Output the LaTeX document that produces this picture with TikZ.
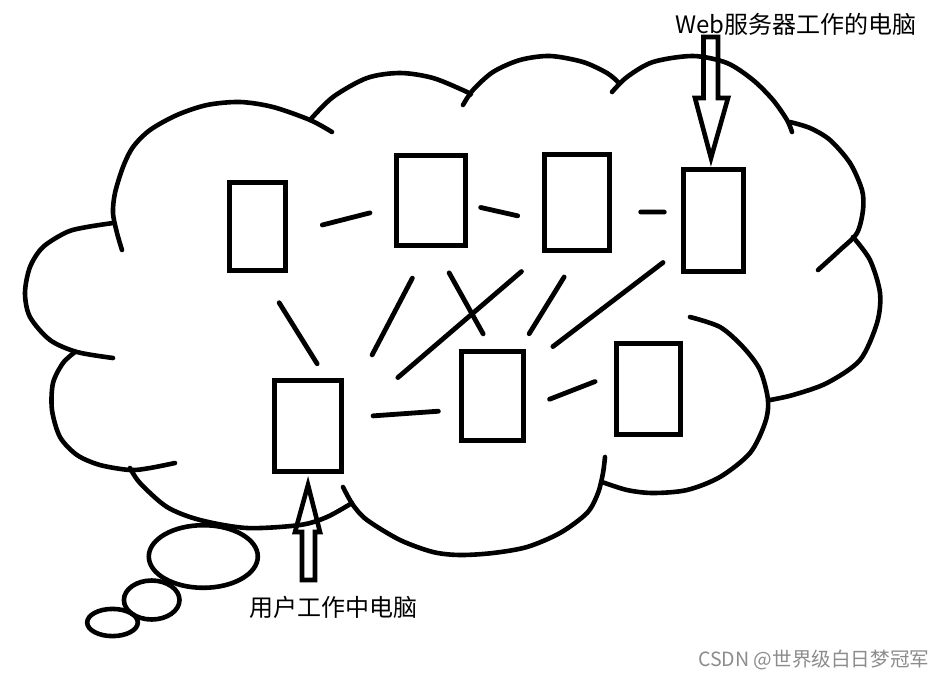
\documentclass[tikz,border=0pt]{standalone}
\usepackage{fontspec}
\newfontfamily\cjk{Noto Sans CJK SC}

\begin{document}
\begin{tikzpicture}[x=1pt,y=-1pt,
  pc/.style={draw, rectangle, line width=5pt, inner sep=0pt},
  link/.style={line width=4.8pt, line cap=round},
  puff/.style={line width=4.6pt, line cap=round},
  bigarrow/.style={line width=4.6pt, line join=miter},
  label/.style={anchor=base west, inner sep=0pt, font=\cjk\fontsize{24}{28}\selectfont}]
\useasboundingbox (0,0) rectangle (943,681);

% cloud
\draw[puff] plot[smooth] coordinates {(122,250) (117,233) (113,213) (115,193) (123,167) (133,147) (150,130) (177,115) (207,105) (240,102) (273,107) (310,120) (332,132)};
\draw[puff] plot[smooth] coordinates {(310,120) (333,97) (367,78) (400,73) (433,78) (467,92) (470,95)};
\draw[puff] plot[smooth] coordinates {(463,105) (473,90) (493,72) (520,60) (550,56) (583,62) (607,73) (618,82)};
\draw[puff] plot[smooth] coordinates {(612,92) (627,77) (653,62) (693,56) (727,63) (753,80) (773,100) (787,120) (792,132)};
\draw[puff] plot[smooth] coordinates {(790,122) (810,128) (830,140) (850,163) (862,190) (863,210) (857,233) (840,250) (818,270)};
\draw[puff] plot[smooth] coordinates {(853,237) (870,260) (880,293) (877,323) (860,360) (827,383) (793,395) (770,400)};
\draw[puff] plot[smooth] coordinates {(690,317) (720,327) (743,347) (760,370) (768,400) (765,423) (750,453) (720,477) (687,490) (653,493) (627,490) (602,482)};
\draw[puff] plot[smooth] coordinates {(605,457) (603,473) (598,493) (587,513) (560,533) (527,547) (493,553) (460,555) (433,552) (400,540) (367,520) (353,505) (343,487)};
\draw[puff] plot[smooth] coordinates {(352,503) (327,517) (300,525) (247,528) (200,520) (167,507) (140,483) (130,468)};
\draw[puff] plot[smooth] coordinates {(75,352) (63,363) (53,383) (52,410) (60,437) (77,455) (100,465) (130,470) (150,468) (175,463)};
\draw[puff] plot[smooth] coordinates {(113,223) (87,227) (67,232) (43,247) (30,267) (25,293) (30,317) (50,340) (77,352) (113,358)};

% thought bubbles
\draw[puff] (203.3,556.5) ellipse [x radius=54.5pt, y radius=31.3pt];
\draw[puff] (151.7,600) ellipse [x radius=27.8pt, y radius=19.5pt];
\draw[puff] (112.5,622.5) ellipse [x radius=25.3pt, y radius=13.6pt];

% computers
\node[pc, minimum width=56pt, minimum height=88pt] (A) at (257.5,226.7) {};
\node[pc, minimum width=69pt, minimum height=90pt] (B) at (431.3,200.8) {};
\node[pc, minimum width=65.5pt, minimum height=96.5pt] (C) at (577,202.5) {};
\node[pc, minimum width=60pt, minimum height=102pt] (W) at (713.2,220.8) {};
\node[pc, minimum width=67.3pt, minimum height=91pt] (U) at (307.8,426.3) {};
\node[pc, minimum width=62pt, minimum height=89pt] (D) at (492.5,396.2) {};
\node[pc, minimum width=64pt, minimum height=90.5pt] (E) at (648.5,388.8) {};

\draw[link, shorten <=35.4pt, shorten >=25.1pt] (A.-13.3) -- (B.189);
\draw[link, shorten <=12.7pt, shorten >=24.7pt] (B.-6.6) -- (C.208.5);
\draw[link, shorten <=28.4pt, shorten >=16.4pt] (C.-15.5) -- (W.165.3);
\draw[link, shorten <=34.8pt, shorten >=17.2pt] (A.-86.7) -- (U.69.8);
\draw[link, shorten <=33.7pt, shorten >=60.7pt] (B.-94.2) -- (U.26.5);
\draw[link, shorten <=28.1pt, shorten >=17.5pt] (B.-85.9) -- (D.91.3);
\draw[link, shorten <=28.1pt, shorten >=71pt] (C.-124.4) -- (U.4.6);
\draw[link, shorten <=27.9pt, shorten >=18.2pt] (C.-88.4) -- (D.60.2);
\draw[link, shorten <=22.2pt, shorten >=33.8pt] (W.-139.4) -- (D.41.3);
\draw[link, shorten <=29.2pt, shorten >=20.7pt] (U.13.7) -- (D.202.1);
\draw[link, shorten <=25.2pt, shorten >=20.3pt] (D.-20.9) -- (E.157.9);

% labels and block arrows
\node[label] (webpc) at (675,33) {Web服务器工作的电脑};
\node[label] (userpc) at (249,616) {用户工作中电脑};
\draw[bigarrow] (703.5,37) -- (718,37) -- (718,98) -- (728,98) -- (711,158) -- (695,98) -- (703.5,98) -- cycle;
\draw[bigarrow] (302,580) -- (315,580) -- (315,532) -- (320,532) -- (308,485) -- (295,532) -- (302,532) -- cycle;

\node[anchor=base west, inner sep=0pt, font=\cjk\fontsize{19.6}{22}\selectfont, text=black!45] (mark) at (698,666) {CSDN @世界级白日梦冠军};
\end{tikzpicture}
\end{document}
